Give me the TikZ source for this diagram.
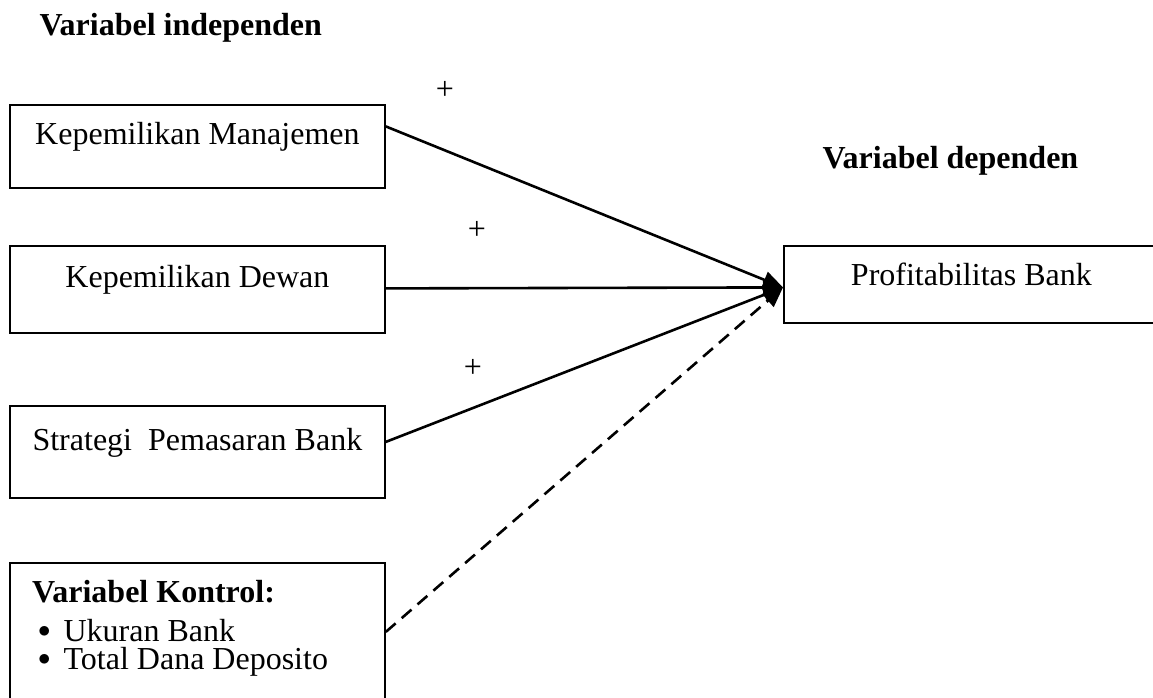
\documentclass[tikz,border=0pt]{standalone}
\usepackage{fontspec}
\setmainfont{Liberation Serif}
\usetikzlibrary{arrows.meta}

\tikzset{
  every node/.style={font=\fontsize{32}{38}\selectfont},
  varbox/.style={draw, line width=1.8pt, minimum width=375pt, inner sep=0pt,
    text height=22pt, text depth=25pt, anchor=north west},
  itemline/.style={anchor=base west, inner sep=0pt, text height=21pt, text depth=6pt},
  link/.style={line width=2.6pt, -{Triangle[length=20pt,width=17pt]}},
}
\newcommand{\itembullet}{\raisebox{4pt}{$\bullet$}\hspace{13pt}}

\begin{document}
\begin{tikzpicture}[x=1pt,y=-1pt]
      \useasboundingbox (0,0) rectangle (1153,697);
      \clip (0,0) rectangle (1153,697);
      \node[anchor=base west] (indep) at (36,35) {\textbf{Variabel independen}};
      \node[anchor=base west] (dep) at (819,168) {\textbf{Variabel dependen}};
      \node[varbox, minimum height=83pt] (mgmt) at (9,104) {Kepemilikan Manajemen};
      \node[varbox, minimum height=87pt] (dewan) at (9,245) {Kepemilikan Dewan};
      \node[varbox, minimum height=92pt] (strategi) at (9,405) {Strategi\ \ Pemasaran Bank};
      \node[varbox, minimum height=77pt, text depth=19pt] (profit) at (783,245) {Profitabilitas Bank};
      \node[varbox, minimum height=170pt] (kontrol) at (9,562) {};
      \node[itemline] (kjudul) at (32,602) {\textbf{Variabel Kontrol:}};
      \node[itemline] (ukuran) at (38,641) {\itembullet Ukuran Bank};
      \node[itemline] (deposito) at (38,669) {\itembullet Total Dana Deposito};
      \node (plus1) at (445,90) {+};
      \node (plus2) at (477,230) {+};
      \node (plus3) at (473,368) {+};
      \draw[link] ([yshift=20pt]mgmt.east) -- ([yshift=-3pt]profit.west);
      \draw[link] ([yshift=1pt]dewan.east) -- ([yshift=-3pt]profit.west);
      \draw[link] ([yshift=10pt]strategi.east) -- ([yshift=-3pt]profit.west);
      \draw[link, dash pattern=on 13pt off 8pt] ([yshift=16pt]kontrol.east) -- ([yshift=-3pt]profit.west);
    \end{tikzpicture}
\end{document}
